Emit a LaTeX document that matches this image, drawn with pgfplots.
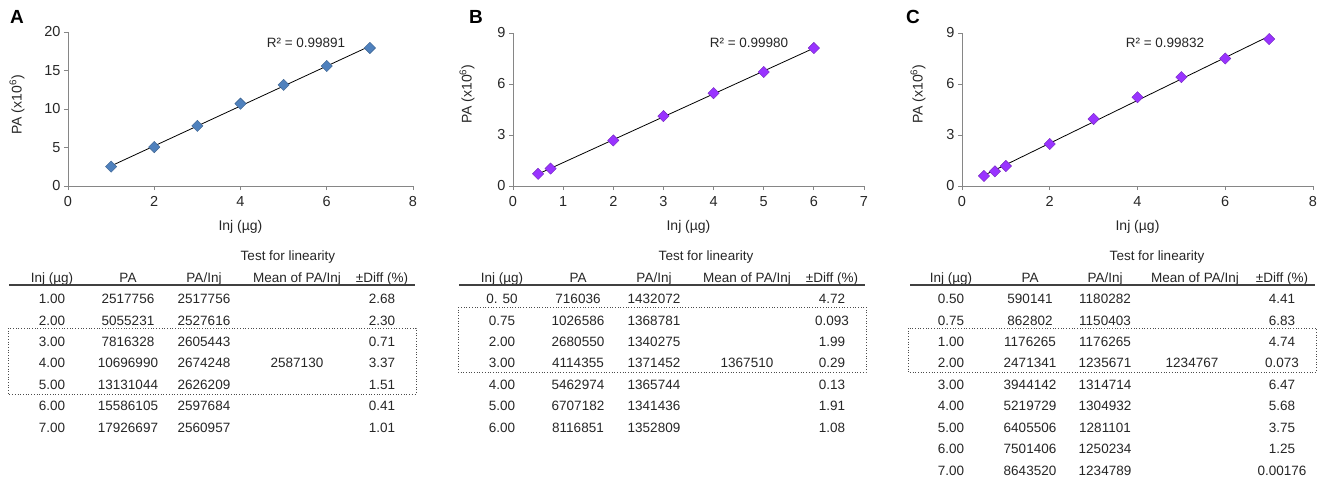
\documentclass[border=0pt]{standalone}
\usepackage{fontspec}
\setmainfont{Liberation Sans}
\usepackage{pgfplots}
\usepackage{pgfplotstable}
\pgfplotsset{compat=1.18}
\definecolor{ablue}{HTML}{4F81BD}
\definecolor{apurp}{HTML}{9933FF}
\definecolor{axgray}{HTML}{868686}
\definecolor{txt}{HTML}{262626}

\pgfplotstableread{
x y
1 2.517756
2 5.055231
3 7.816328
4 10.696990
5 13.131044
6 15.586105
7 17.926697
}\dataA
\pgfplotstableread{
x y
0.5 0.716036
0.75 1.026586
2 2.680550
3 4.114355
4 5.462974
5 6.707182
6 8.116851
}\dataB
\pgfplotstableread{
x y
0.5 0.590141
0.75 0.862802
1 1.176265
2 2.471341
3 3.944142
4 5.219729
5 6.405506
6 7.501406
7 8.643520
}\dataC

\pgfplotsset{myax/.style={
  scale only axis, axis lines*=left,
  axis line style={axgray,line width=0.9pt},
  tick align=outside, major tick length=4pt,
  tick style={axgray,line width=0.9pt},
  ticklabel style={font=\fontsize{14.5}{15}\selectfont, text=txt},
  xticklabel style={yshift=-3pt},
  /pgf/number format/assume math mode=true,
  xlabel style={font=\fontsize{14}{15}\selectfont, text=txt, at={(axis description cs:0.5,0)}, anchor=center, yshift=-41pt},
  ylabel style={font=\fontsize{14}{15}\selectfont, text=txt, anchor=center},
  clip=false,
  xlabel={Inj (µg)}, ylabel={PA (x10\textsuperscript{6})},
}}

\newcommand\tabfont{\fontsize{13.5}{15}\selectfont}
\newcommand\tabrow[5]{%
  \node at (\cI pt,-#1 pt){#2};
  \node at (\cP pt,-#1 pt){#3};
  \node at (\cQ pt,-#1 pt){#4};
  \node at (\cD pt,-#1 pt){#5};}

\begin{document}
\begin{tikzpicture}
\path[use as bounding box] (0pt,0pt) rectangle (1323pt,-483pt);

% ---------- Panel A ----------
\begin{axis}[myax, at={(68pt,-186pt)}, anchor=south west,
  width=345pt, height=154pt, xmin=0, xmax=8, ymin=0, ymax=20,
  xtick={0,2,4,6,8}, ytick={0,5,10,15,20},
  ylabel style={at={(axis description cs:-0.148,0.526)}}]
\addplot[only marks, mark=square*, mark size=4pt,
  mark options={rotate=45, fill=ablue, draw=ablue!75!black, line width=0.4pt}]
  table[x=x,y=y]{\dataA};
\addplot[black, line width=0.8pt, no markers]
  table[x=x, y={create col/linear regression={y=y}}]{\dataA};
\end{axis}

% ---------- Panel B ----------
\begin{axis}[myax, at={(513pt,-186pt)}, anchor=south west,
  width=351pt, height=153pt, xmin=0, xmax=7, ymin=0, ymax=9,
  xtick={0,1,...,7}, ytick={0,3,6,9},
  ylabel style={at={(axis description cs:-0.131,0.60)}}]
\addplot[only marks, mark=square*, mark size=4pt,
  mark options={rotate=45, fill=apurp, draw=apurp!75!black, line width=0.4pt}]
  table[x=x,y=y]{\dataB};
\addplot[black, line width=0.8pt, no markers]
  table[x=x, y={create col/linear regression={y=y}}]{\dataB};
\end{axis}

% ---------- Panel C ----------
\begin{axis}[myax, at={(962pt,-186pt)}, anchor=south west,
  width=351pt, height=153pt, xmin=0, xmax=8, ymin=0, ymax=9,
  xtick={0,2,4,6,8}, ytick={0,3,6,9},
  ylabel style={at={(axis description cs:-0.125,0.60)}}]
\addplot[only marks, mark=square*, mark size=4pt,
  mark options={rotate=45, fill=apurp, draw=apurp!75!black, line width=0.4pt}]
  table[x=x,y=y]{\dataC};
\addplot[black, line width=0.8pt, no markers]
  table[x=x, y={create col/linear regression={y=y}}]{\dataC};
\end{axis}

% panel letters and R^2
\begin{scope}[every node/.style={inner sep=0pt, text=black}]
\node[font=\fontsize{19}{20}\selectfont\bfseries] at (17pt,-17pt) {A};
\node[font=\fontsize{19}{20}\selectfont\bfseries] at (476pt,-17pt) {B};
\node[font=\fontsize{19}{20}\selectfont\bfseries] at (913pt,-17pt) {C};
\node[font=\fontsize{13.5}{15}\selectfont, text=txt] at (306pt,-43pt) {R² = 0.99891};
\node[font=\fontsize{13.5}{15}\selectfont, text=txt] at (749pt,-43pt) {R² = 0.99980};
\node[font=\fontsize{13.5}{15}\selectfont, text=txt] at (1165pt,-43pt) {R² = 0.99832};
\end{scope}

% ---------- Tables ----------
\begin{scope}[every node/.style={font=\tabfont, text=txt, inner sep=0pt, text height=9.6pt, text depth=0pt}]
% Table A
\def\cI{52}\def\cP{128}\def\cQ{204}\def\cD{382}
\node at (288pt,-256pt) {Test for linearity};
\tabrow{278}{Inj (µg)}{PA}{PA/Inj}{±Diff (\%)}
\node at (297pt,-278pt) {Mean of PA/Inj};
\draw[black!75, line width=1.5pt] (9pt,-285pt) -- (415pt,-285pt);
\tabrow{299}{1.00}{2517756}{2517756}{2.68}
\tabrow{321}{2.00}{5055231}{2527616}{2.30}
\tabrow{342}{3.00}{7816328}{2605443}{0.71}
\tabrow{363}{4.00}{10696990}{2674248}{3.37}
\tabrow{385}{5.00}{13131044}{2626209}{1.51}
\tabrow{406}{6.00}{15586105}{2597684}{0.41}
\tabrow{428}{7.00}{17926697}{2560957}{1.01}
\node at (297pt,-363pt) {2587130};
\draw[black!70, line width=0.7pt, dotted] (8pt,-328pt) rectangle (416pt,-394pt);

% Table B
\def\cI{502}\def\cP{578}\def\cQ{654}\def\cD{832}
\node at (706pt,-256pt) {Test for linearity};
\tabrow{278}{Inj (µg)}{PA}{PA/Inj}{±Diff (\%)}
\node at (747pt,-278pt) {Mean of PA/Inj};
\draw[black!75, line width=1.5pt] (459pt,-285pt) -- (865pt,-285pt);
\tabrow{299}{0. 50}{716036}{1432072}{4.72}
\tabrow{321}{0.75}{1026586}{1368781}{0.093}
\tabrow{342}{2.00}{2680550}{1340275}{1.99}
\tabrow{363}{3.00}{4114355}{1371452}{0.29}
\tabrow{385}{4.00}{5462974}{1365744}{0.13}
\tabrow{406}{5.00}{6707182}{1341436}{1.91}
\tabrow{428}{6.00}{8116851}{1352809}{1.08}
\node at (747pt,-363pt) {1367510};
\draw[black!70, line width=0.7pt, dotted] (458pt,-307pt) rectangle (866pt,-372pt);

% Table C
\def\cI{951}\def\cP{1030}\def\cQ{1105}\def\cD{1282}
\node at (1157pt,-256pt) {Test for linearity};
\tabrow{278}{Inj (µg)}{PA}{PA/Inj}{±Diff (\%)}
\node at (1195pt,-278pt) {Mean of PA/Inj};
\draw[black!75, line width=1.5pt] (910pt,-285pt) -- (1315pt,-285pt);
\tabrow{299}{0.50}{590141}{1180282}{4.41}
\tabrow{321}{0.75}{862802}{1150403}{6.83}
\tabrow{342}{1.00}{1176265}{1176265}{4.74}
\tabrow{363}{2.00}{2471341}{1235671}{0.073}
\tabrow{385}{3.00}{3944142}{1314714}{6.47}
\tabrow{406}{4.00}{5219729}{1304932}{5.68}
\tabrow{428}{5.00}{6405506}{1281101}{3.75}
\tabrow{449}{6.00}{7501406}{1250234}{1.25}
\tabrow{471}{7.00}{8643520}{1234789}{0.00176}
\node at (1192pt,-363pt) {1234767};
\draw[black!70, line width=0.7pt, dotted] (908pt,-328pt) rectangle (1316pt,-372pt);
\end{scope}
\end{tikzpicture}
\end{document}
